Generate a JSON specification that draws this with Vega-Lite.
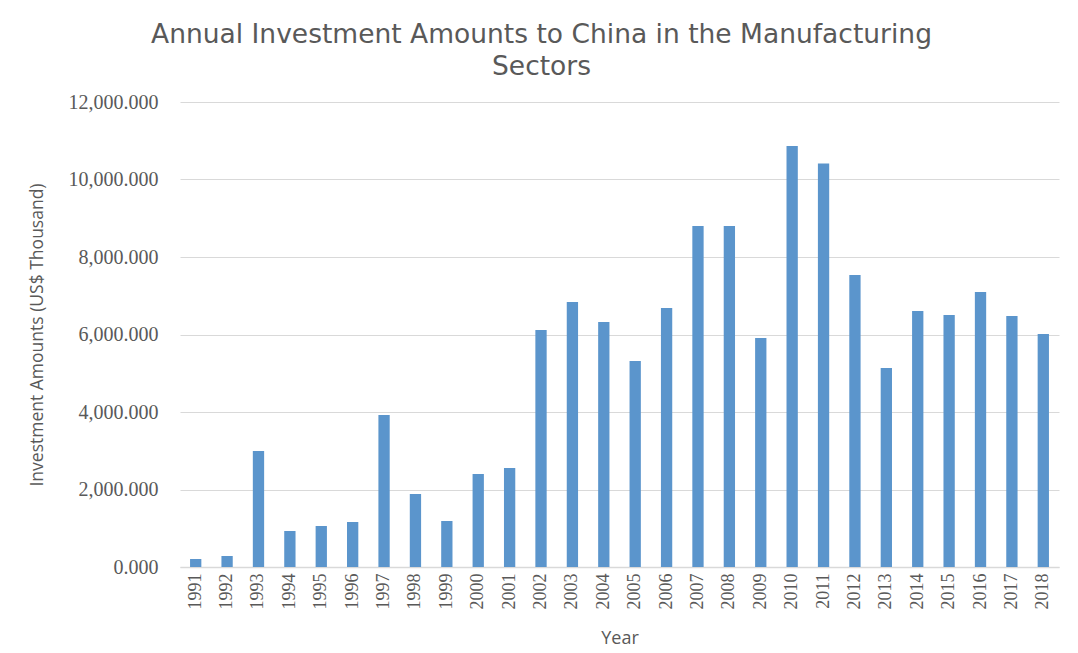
{
  "$schema": "https://vega.github.io/schema/vega-lite/v6.json",
  "autosize": {"type": "none"},
  "width": 879,
  "height": 465,
  "padding": {"left": 180, "top": 102, "right": 19, "bottom": 86},
  "background": "white",
  "title": {
    "text": ["Annual Investment Amounts to China in the Manufacturing", "Sectors"],
    "font": "DejaVu Sans",
    "fontSize": 26.5,
    "fontWeight": "normal",
    "color": "#595959",
    "lineHeight": 32,
    "anchor": "middle",
    "dx": -78,
    "offset": 12
  },
  "data": {
    "values": [
      {"year": "1991", "amount": 206},
      {"year": "1992", "amount": 284},
      {"year": "1993", "amount": 2994},
      {"year": "1994", "amount": 929},
      {"year": "1995", "amount": 1058},
      {"year": "1996", "amount": 1161},
      {"year": "1997", "amount": 3923},
      {"year": "1998", "amount": 1884},
      {"year": "1999", "amount": 1187},
      {"year": "2000", "amount": 2400},
      {"year": "2001", "amount": 2555},
      {"year": "2002", "amount": 6116},
      {"year": "2003", "amount": 6839},
      {"year": "2004", "amount": 6323},
      {"year": "2005", "amount": 5316},
      {"year": "2006", "amount": 6684},
      {"year": "2007", "amount": 8800},
      {"year": "2008", "amount": 8800},
      {"year": "2009", "amount": 5910},
      {"year": "2010", "amount": 10865},
      {"year": "2011", "amount": 10410},
      {"year": "2012", "amount": 7535},
      {"year": "2013", "amount": 5135},
      {"year": "2014", "amount": 6606},
      {"year": "2015", "amount": 6503},
      {"year": "2016", "amount": 7097},
      {"year": "2017", "amount": 6477},
      {"year": "2018", "amount": 6013}
    ]
  },
  "mark": {"type": "bar", "color": "#5b95cc"},
  "encoding": {
    "x": {
      "field": "year",
      "type": "ordinal",
      "scale": {"paddingInner": 0.64, "paddingOuter": 0.32},
      "axis": {
        "title": "Year",
        "titleFont": "Open Sans",
        "titleFontSize": 18,
        "titleFontWeight": "normal",
        "titleColor": "#595959",
        "titlePadding": 20,
        "labelAngle": -90,
        "labelFont": "Liberation Serif",
        "labelFontSize": 18,
        "labelColor": "#595959",
        "labelPadding": 6,
        "ticks": false,
        "domainColor": "#d9d9d9",
        "domainWidth": 1.5
      }
    },
    "y": {
      "field": "amount",
      "type": "quantitative",
      "scale": {"domain": [0, 12000], "nice": false},
      "axis": {
        "title": "Investment Amounts (US$ Thousand)",
        "titleFont": "Open Sans",
        "titleFontSize": 17.5,
        "titleFontWeight": "normal",
        "titleColor": "#595959",
        "titlePadding": 22,
        "values": [0, 2000, 4000, 6000, 8000, 10000, 12000],
        "format": ",.3f",
        "labelFont": "Liberation Serif",
        "labelFontSize": 20,
        "labelColor": "#595959",
        "labelPadding": 22,
        "ticks": false,
        "domain": false,
        "gridColor": "#d9d9d9",
        "gridWidth": 1
      }
    }
  },
  "config": {"view": {"stroke": null}}
}
